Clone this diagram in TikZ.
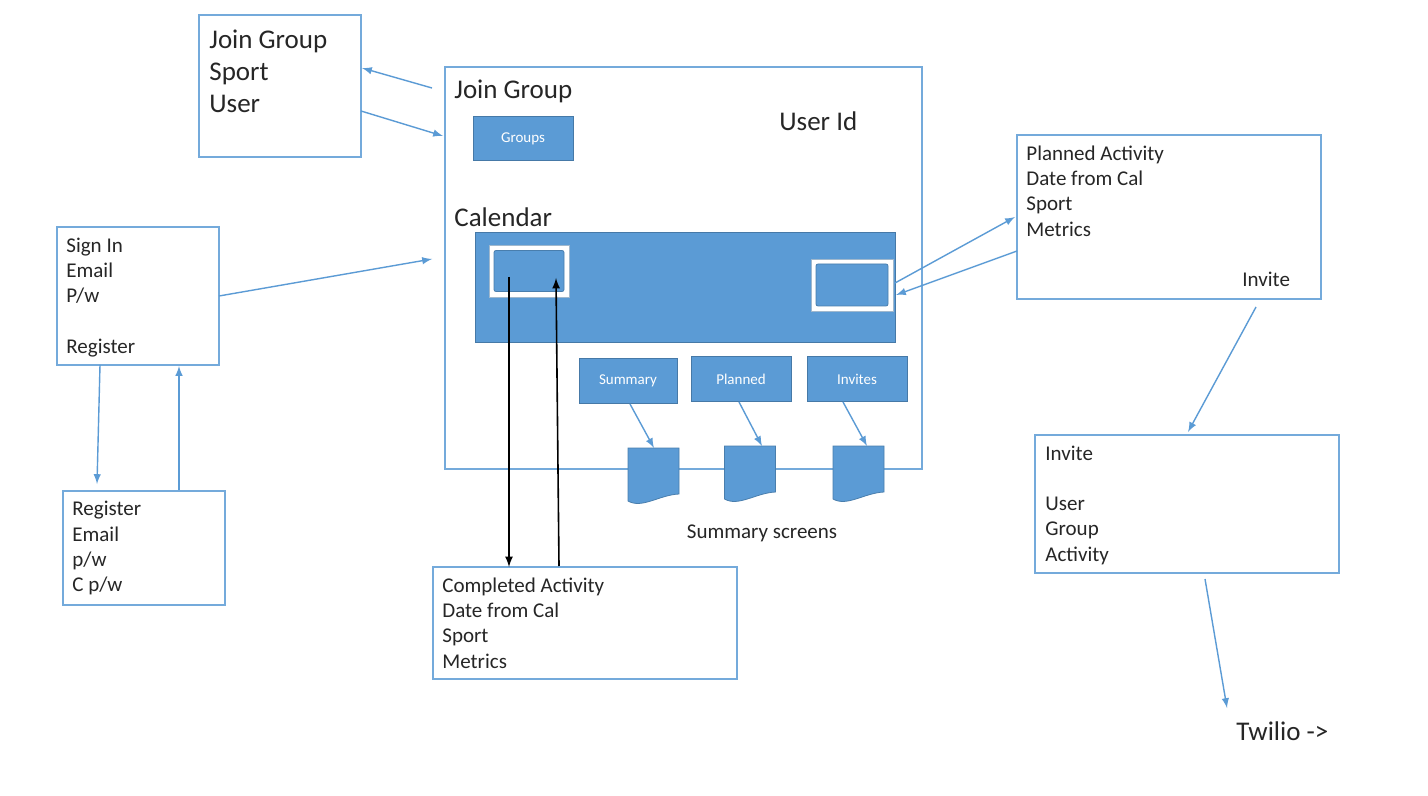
\documentclass[tikz,border=0pt]{standalone}
\usepackage{fontspec}
\setmainfont{Carlito}
\usetikzlibrary{arrows,positioning}
\definecolor{flowblue}{HTML}{5B9BD5}
\definecolor{flowedge}{HTML}{41719C}
\tikzset{
  every picture/.style = {
    x = 0.5pt,
    y = -0.5pt,
    >=latex,
  }
  ,
  frame/.style = {
    rectangle,
    anchor = north west,
    draw = flowblue!85!white,
    line width = 0.7pt,
    inner sep = 0pt,
    outer sep = 0pt
  }
  ,
  solid-box/.style = {
    rectangle,
    fill = flowblue,
    draw = flowedge!80!flowblue,
    line width = 0.5pt,
    text = white,
    font = \fontsize{7.5}{9}\selectfont,
    inner sep = 0pt,
    outer sep = 0pt
  }
  , % white frame round a calendar day
  day-frame/.style = {
    rectangle,
    fill = white,
    draw = flowedge!50,
    line width = 0.3pt,
    inner sep = 0pt,
    outer sep = 0pt
  }
  ,
  day-box/.style = {
    rectangle,
    rounded corners = 1pt,
    fill = flowblue,
    draw = flowedge!70!flowblue,
    line width = 0.4pt,
    inner sep = 0pt,
    outer sep = 0pt
  }
  , % text in the outlined boxes
  list-big/.style = {
    align = left,
    inner sep = 0pt,
    text = black!85,
    font = \fontsize{13.5}{16}\selectfont
  }
  ,
  list-small/.style = {
    align = left,
    inner sep = 0pt,
    text = black!85,
    font = \fontsize{10.5}{12.6}\selectfont
  }
  ,
  sheet/.style = {
    rectangle,
    minimum width = 25.5pt,
    minimum height = 26.5pt,
    anchor = north west,
    inner sep = 0pt,
    outer sep = 0pt
  }
  ,
  link/.style = {
    ->,
    draw = flowblue,
    line width = 0.7pt
  }
  ,
  blacklink/.style = {
    ->,
    draw = black,
    line width = 0.8pt
  }
}
% wavy sheet: #1 name, #2 top left corner
\newcommand{\sheetat}[2]{
  \node [sheet] (#1) at (#2) {};
  \fill [flowblue, draw=flowedge!70!flowblue, line width=0.4pt]
    (#1.north west) -- (#1.north east) -- ([yshift=3.5pt]#1.south east)
    .. controls +(-10pt,-0.5pt) and +(7pt,-4pt) .. (#1.south west) -- cycle;
}
\begin{document}
\begin{tikzpicture}
\useasboundingbox [fill=white] (0,0) rectangle (1428,796);

\node [frame, minimum width=238.5pt, minimum height=201pt] (main) at (445,67) {};
\node [frame, minimum width=81pt, minimum height=71pt] (joinbox) at (199,15) {};
\node [frame, minimum width=81pt, minimum height=69pt] (signin) at (57,227) {};
\node [frame, minimum width=81pt, minimum height=57pt] (register) at (63,491) {};
\node [frame, fill=white, minimum width=152pt, minimum height=56pt] (completed) at (433,567) {};
\node [frame, minimum width=152pt, minimum height=82pt] (plannedact) at (1017,135) {};
\node [frame, minimum width=152pt, minimum height=69pt] (invite) at (1035,435) {};

\node [list-big, below right = 7.5pt and 5pt of joinbox.north west] (jointext) {Join Group\\Sport\\User};
\node [list-small, below right = 5.25pt and 4.5pt of signin.north west] (signintext) {Sign In\\Email\\P/w\\[12.6pt]Register};
\node [list-small, below right = 5pt and 4.5pt of register.north west] (registertext) {Register\\Email\\p/w\\C p/w};
\node [list-small, below right = 5.25pt and 4.5pt of completed.north west] (completedtext) {Completed Activity\\Date from Cal\\Sport\\Metrics};
\node [list-small, below right = 5.25pt and 4.5pt of plannedact.north west] (plannedtext) {Planned Activity\\Date from Cal\\Sport\\Metrics};
\node [list-small, anchor=west] (plannedinvite) at (1242,279) {Invite};
\node [list-small, below right = 5.25pt and 5pt of invite.north west] (invitetext) {Invite\\[12.6pt]User\\Group\\Activity};

\node [list-big, anchor=west] (jointitle) at (454,91) {Join Group};
\node [list-big, anchor=west] (userid) at (779,121) {User Id};
\node [list-big, anchor=west] (calendartitle) at (454,217) {Calendar};
\node [list-small, anchor=center] (screens) at (762,533) {Summary screens};
\node [list-big, anchor=west] (twilio) at (1236,731) {Twilio ->};

\node [solid-box, minimum width=50pt, minimum height=22pt] (groups) at (523,139) {Groups};
\node [solid-box, minimum width=210pt, minimum height=55pt] (calendar) at (685,288) {};
\node [solid-box, minimum width=49pt, minimum height=22pt] (summary) at (628,381) {Summary};
\node [solid-box, minimum width=50pt, minimum height=22pt] (planned) at (741,379) {Planned};
\node [solid-box, minimum width=50pt, minimum height=22pt] (invites) at (857,379) {Invites};

\node [day-frame, minimum width=40pt, minimum height=26pt] (dayleftout) at (529,271) {};
\node [day-box, minimum width=35pt, minimum height=20.5pt] (dayleft) at (529,271) {};
\node [day-frame, minimum width=41pt, minimum height=26pt] (dayrightout) at (852,285) {};
\node [day-box, minimum width=36pt, minimum height=21pt] (dayright) at (852,285) {};

\sheetat{sheetone}{628,448}
\sheetat{sheettwo}{724.5,446}
\sheetat{sheetthree}{833,446}

% free ends of the connectors
\coordinate (joinout) at (432,88);
\coordinate (joinback) at (362,68);
\coordinate (joinstart) at (361,111);
\coordinate (joinend) at (443,136);
\coordinate (signinend) at (432,259);
\coordinate (regdown) at (100,365);
\coordinate (regdownend) at (97,484);
\coordinate (regup) at (179,490);
\coordinate (regupend) at (179,366);
\coordinate (dayoutstart) at (509,277);
\coordinate (dayoutend) at (509,567);
\coordinate (dayinstart) at (559,566);
\coordinate (dayinend) at (556,278);
\coordinate (planstart) at (895,283);
\coordinate (planend) at (1015,217);
\coordinate (planbackstart) at (1017,251);
\coordinate (planbackend) at (896,295);
\coordinate (invitestart) at (1256,307);
\coordinate (inviteend) at (1188,432);
\coordinate (twiliostart) at (1205,579);
\coordinate (twilioend) at (1227,708);
\coordinate (summarystart) at (630,404);
\coordinate (plannedstart) at (739,402);
\coordinate (invitesstart) at (843,402);
\coordinate (summaryend) at (654,448);
\coordinate (plannedend) at (762,446);
\coordinate (invitesend) at (867,446);

\draw [link] (joinout) -- (joinback);
\draw [link] (joinstart) -- (joinend);
\draw [link] (signin.east) -- (signinend);
\draw [link] (regdown) -- (regdownend);
\draw [link] (regup) -- (regupend);
\draw [link] (planstart) -- (planend);
\draw [link] (planbackstart) -- (planbackend);
\draw [link] (invitestart) -- (inviteend);
\draw [link] (twiliostart) -- (twilioend);
\draw [link] (summarystart) -- (summaryend);
\draw [link] (plannedstart) -- (plannedend);
\draw [link] (invitesstart) -- (invitesend);
\draw [blacklink] (dayoutstart) -- (dayoutend);
\draw [blacklink] (dayinstart) -- (dayinend);
\end{tikzpicture}
\end{document}
